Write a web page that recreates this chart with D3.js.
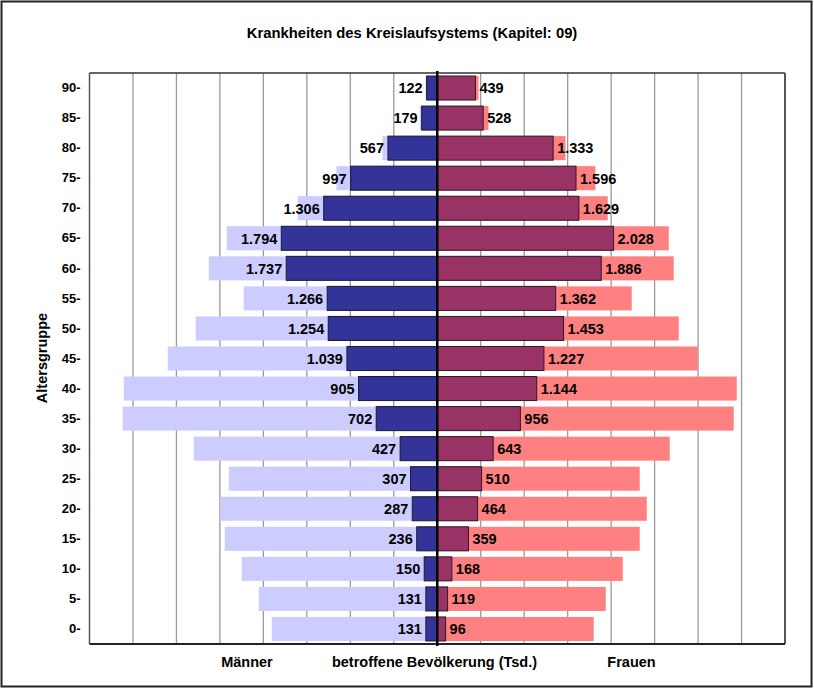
<!DOCTYPE html>
<html>
<head>
<meta charset="utf-8">
<script src="https://cdn.jsdelivr.net/npm/d3@7"></script>
<style>
  html, body { margin: 0; padding: 0; background: #fff; }
  svg { display: block; font-family: "Liberation Sans", Arial, sans-serif; font-weight: bold; }
</style>
</head>
<body>
<svg id="chart" width="814" height="689"></svg>
<script>
// ---- Data ----
const categories = ["90-","85-","80-","75-","70-","65-","60-","55-","50-","45-","40-","35-","30-","25-","20-","15-","10-","5-","0-"];
const maleAffected   = [122,179,567,997,1306,1794,1737,1266,1254,1039,905,702,427,307,287,236,150,131,131];
const femaleAffected = [439,528,1333,1596,1629,2028,1886,1362,1453,1227,1144,956,643,510,464,359,168,119,96];
const malePopulation   = [135,201,630,1160,1605,2421,2628,2226,2778,3100,3606,3618,2801,2398,2494,2444,2249,2053,1904];
const femalePopulation = [475,589,1475,1820,1961,2663,2720,2237,2778,2996,3445,3410,2674,2329,2410,2329,2134,1938,1800];
const gridTicks = [-3500,-3000,-2500,-2000,-1500,-1000,-500,500,1000,1500,2000,2500,3000,3500];
const titleText = "Krankheiten des Kreislaufsystems (Kapitel: 09)";
const yTitle = "Altersgruppe";
const xLabels = ["Männer", "betroffene Bevölkerung (Tsd.)", "Frauen"];

// ---- Layout ----
const svg = d3.select("#chart");
const plot = { left: 89.5, right: 785, top: 73, bottom: 644 };
const x = d3.scaleLinear().domain([-4000, 4000]).range([plot.left, plot.right]);
const y = d3.scaleBand().domain(categories).range([plot.top, plot.bottom]).paddingInner(0.2).paddingOuter(0.1);
const fmt = d3.formatLocale({decimal: ",", thousands: ".", grouping: [3], currency: ["", "€"]}).format(",d");

const rows = categories.map((c, i) => ({
  cat: c, m: maleAffected[i], f: femaleAffected[i], mp: malePopulation[i], fp: femalePopulation[i]
}));

// outer frame
svg.append("rect").attr("x", 1.5).attr("y", 1.5).attr("width", 810).attr("height", 685)
  .attr("fill", "#fff").attr("stroke", "#222").attr("stroke-width", 2);

// title
svg.append("text").attr("x", 412).attr("y", 38).attr("text-anchor", "middle")
  .attr("font-size", 14.8).attr("fill", "#000").text(titleText);

// gridlines
svg.append("g").selectAll("line").data(gridTicks).join("line")
  .attr("x1", d => x(d)).attr("x2", d => x(d))
  .attr("y1", plot.top).attr("y2", plot.bottom)
  .attr("stroke", "#9a9a9a").attr("stroke-width", 1.3);

// population (light) bars
svg.append("g").selectAll("rect").data(rows).join("rect")
  .attr("x", d => x(-d.mp)).attr("y", d => y(d.cat))
  .attr("width", d => x(0) - x(-d.mp)).attr("height", y.bandwidth())
  .attr("fill", "#ccccff");
svg.append("g").selectAll("rect").data(rows).join("rect")
  .attr("x", x(0)).attr("y", d => y(d.cat))
  .attr("width", d => x(d.fp) - x(0)).attr("height", y.bandwidth())
  .attr("fill", "#ff8080");

// affected (dark) bars
svg.append("g").selectAll("rect").data(rows).join("rect")
  .attr("x", d => x(-d.m)).attr("y", d => y(d.cat))
  .attr("width", d => x(0) - x(-d.m)).attr("height", y.bandwidth())
  .attr("fill", "#333399").attr("stroke", "#1a1a2e").attr("stroke-width", 1);
svg.append("g").selectAll("rect").data(rows).join("rect")
  .attr("x", x(0)).attr("y", d => y(d.cat))
  .attr("width", d => x(d.f) - x(0)).attr("height", y.bandwidth())
  .attr("fill", "#993366").attr("stroke", "#2e1a22").attr("stroke-width", 1);

// value labels
svg.append("g").selectAll("text").data(rows).join("text")
  .attr("x", d => x(-d.m) - 4).attr("y", d => y(d.cat) + y.bandwidth() / 2)
  .attr("dy", "0.37em").attr("text-anchor", "end").attr("font-size", 14.5)
  .attr("fill", "#000").text(d => fmt(d.m));
svg.append("g").selectAll("text").data(rows).join("text")
  .attr("x", d => x(d.f) + 4).attr("y", d => y(d.cat) + y.bandwidth() / 2)
  .attr("dy", "0.37em").attr("text-anchor", "start").attr("font-size", 14.5)
  .attr("fill", "#000").text(d => fmt(d.f));

// y axis tick labels
const yAxis = d3.axisLeft(y).tickSize(0).tickPadding(9);
const gy = svg.append("g").attr("transform", `translate(${plot.left},0)`).call(yAxis);
gy.select(".domain").remove();
gy.selectAll("text").attr("font-size", 13).attr("font-family", "Liberation Sans, Arial, sans-serif")
  .attr("font-weight", "bold").attr("fill", "#000");

// plot border
svg.append("line").attr("x1", plot.left).attr("x2", plot.right).attr("y1", plot.top).attr("y2", plot.top)
  .attr("stroke", "#333").attr("stroke-width", 1.5);
svg.append("line").attr("x1", plot.right).attr("x2", plot.right).attr("y1", plot.top).attr("y2", plot.bottom)
  .attr("stroke", "#555").attr("stroke-width", 2);
svg.append("line").attr("x1", plot.left).attr("x2", plot.left).attr("y1", plot.top).attr("y2", plot.bottom)
  .attr("stroke", "#555").attr("stroke-width", 1.5);
svg.append("line").attr("x1", plot.left).attr("x2", plot.right).attr("y1", plot.bottom).attr("y2", plot.bottom)
  .attr("stroke", "#222").attr("stroke-width", 2);

// center line
svg.append("line").attr("x1", x(0)).attr("x2", x(0)).attr("y1", plot.top - 2).attr("y2", plot.bottom + 2)
  .attr("stroke", "#000").attr("stroke-width", 2.5);

// axis titles
svg.append("text").attr("transform", "translate(47,358) rotate(-90)")
  .attr("text-anchor", "middle").attr("font-size", 14.5).attr("fill", "#000").text(yTitle);
const xl = [[247, 0], [434.5, 1], [631.5, 2]];
svg.append("g").selectAll("text").data(xl).join("text")
  .attr("x", d => d[0]).attr("y", 667).attr("text-anchor", "middle")
  .attr("font-size", 14.5).attr("fill", "#000").text(d => xLabels[d[1]]);
</script>
</body>
</html>
